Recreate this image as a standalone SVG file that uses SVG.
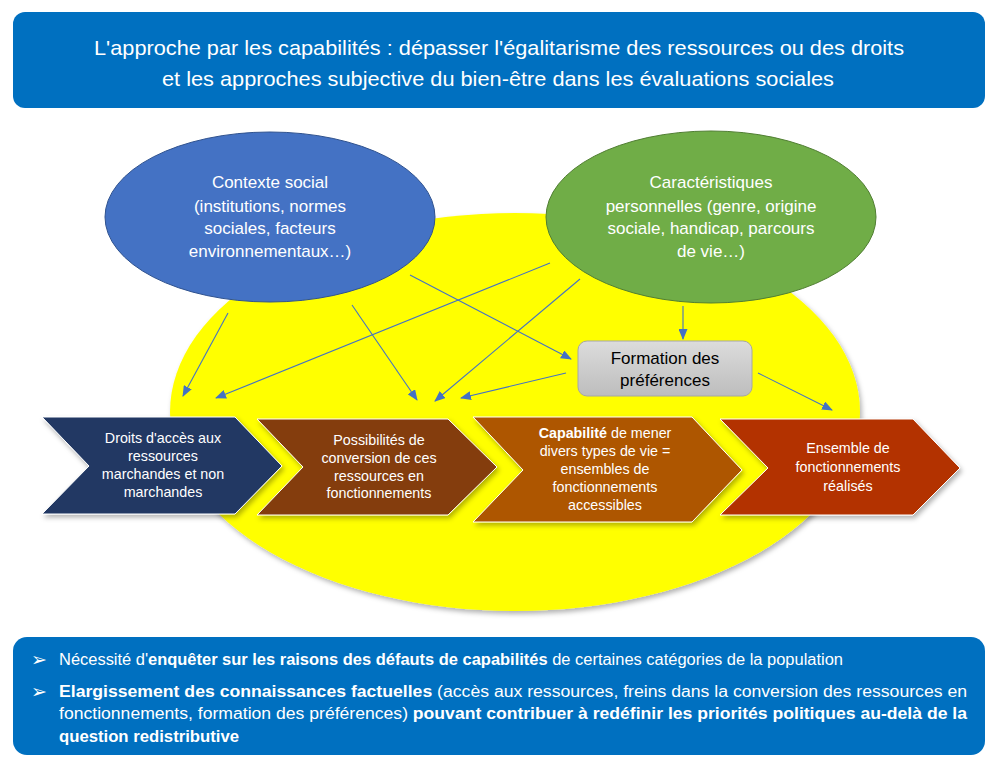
<svg xmlns="http://www.w3.org/2000/svg" width="998" height="771" viewBox="0 0 998 771">
<defs>
<style>
.hdr{font-family:"Liberation Sans",Arial,sans-serif;fill:#fff}
.ell{font-family:"Liberation Sans",Arial,sans-serif;font-size:17px;fill:#fff;text-anchor:middle}
.chev{font-family:"Liberation Sans",Arial,sans-serif;font-size:14.3px;fill:#fff;text-anchor:middle}
.box{font-family:"Liberation Sans",Arial,sans-serif;font-size:17px;fill:#000;text-anchor:middle}
.bot{font-family:"Liberation Sans",Arial,sans-serif;font-size:16px;fill:#fff}
.bul{font-family:"DejaVu Sans",sans-serif;font-size:19px;fill:#fff}
.b{font-weight:bold}
.conn line{stroke:#4472C4;stroke-width:1.1;marker-end:url(#ah)}
.chevshape{stroke:#fff;stroke-width:1;filter:url(#sh)}
</style>
<marker id="ah" markerUnits="userSpaceOnUse" markerWidth="11" markerHeight="9" refX="10" refY="4.5" orient="auto" viewBox="0 0 11 9">
<path d="M0,0 L11,4.5 L0,9 z" fill="#4472C4"/>
</marker>
<filter id="sh" x="-10%" y="-10%" width="125%" height="130%">
<feDropShadow dx="2" dy="3" stdDeviation="2.5" flood-color="#000" flood-opacity="0.3"/>
</filter>
<linearGradient id="gg" x1="0" y1="0" x2="0" y2="1">
<stop offset="0" stop-color="#dcdcdc"/>
<stop offset="1" stop-color="#bdbdbd"/>
</linearGradient>
</defs>

<g id="header">
<rect x="13" y="12" width="972" height="96" rx="12" fill="#0070C0"/>
<text class="hdr" font-size="21" x="94" y="55" textLength="810" lengthAdjust="spacingAndGlyphs">L'approche par les capabilités : dépasser l'égalitarisme des ressources ou des droits</text>
<text class="hdr" font-size="21" x="162" y="86" textLength="672" lengthAdjust="spacingAndGlyphs">et les approches subjective du bien-être dans les évaluations sociales</text>
</g>

<g id="yellow-bg">
<ellipse cx="515" cy="412" rx="345" ry="199" fill="#FFFF00" filter="url(#sh)"/>
</g>

<g id="contexte-social">
<ellipse cx="270" cy="217" rx="165" ry="85" fill="#4472C4" stroke="#2F528F" stroke-width="1"/>
<text class="ell" x="270" y="188">Contexte social</text>
<text class="ell" x="270" y="212">(institutions, normes</text>
<text class="ell" x="270" y="234">sociales, facteurs</text>
<text class="ell" x="270" y="257">environnementaux…)</text>
</g>

<g id="caracteristiques">
<ellipse cx="711" cy="217" rx="165" ry="86" fill="#70AD47" stroke="#507E32" stroke-width="1"/>
<text class="ell" x="711" y="188">Caractéristiques</text>
<text class="ell" x="711" y="212">personnelles (genre, origine</text>
<text class="ell" x="711" y="234">sociale, handicap, parcours</text>
<text class="ell" x="711" y="257">de vie…)</text>
</g>

<g id="connectors" class="conn">
<line x1="228" y1="313" x2="183" y2="396"/>
<line x1="550" y1="263" x2="216" y2="398"/>
<line x1="352" y1="305" x2="417" y2="400"/>
<line x1="580" y1="279" x2="435" y2="401"/>
<line x1="566" y1="373" x2="461" y2="398"/>
<line x1="410" y1="275" x2="571" y2="359"/>
<line x1="683" y1="306" x2="683" y2="339"/>
<line x1="758" y1="373" x2="832" y2="410"/>
</g>

<g id="formation-preferences">
<rect x="578" y="341" width="174" height="55" rx="9" fill="url(#gg)" stroke="#a6a6a6" stroke-width="1"/>
<text class="box" x="665" y="364">Formation des</text>
<text class="box" x="665" y="386">préférences</text>
</g>

<g id="droits-acces">
<polygon class="chevshape" points="42,417 235,417 282,466 235,514 42,514 89,466" fill="#203864"/>
<text class="chev" x="163" y="443">Droits d'accès aux</text>
<text class="chev" x="163" y="461">ressources</text>
<text class="chev" x="163" y="479">marchandes et non</text>
<text class="chev" x="163" y="497">marchandes</text>
</g>

<g id="possibilites-conversion">
<polygon class="chevshape" points="257,419 448,419 497,467 448,515 257,515 303,467" fill="#843C0C"/>
<text class="chev" x="379" y="445">Possibilités de</text>
<text class="chev" x="379" y="463">conversion de ces</text>
<text class="chev" x="379" y="481">ressources en</text>
<text class="chev" x="379" y="498">fonctionnements</text>
</g>

<g id="capabilite">
<polygon class="chevshape" points="473,417 692,417 742,470 692,522 473,522 523,470" fill="#AE5600"/>
<text class="chev" x="605" y="438"><tspan class="b">Capabilité</tspan> de mener</text>
<text class="chev" x="605" y="456">divers types de vie =</text>
<text class="chev" x="605" y="474">ensembles de</text>
<text class="chev" x="605" y="492">fonctionnements</text>
<text class="chev" x="605" y="510">accessibles</text>
</g>

<g id="fonctionnements-realises">
<polygon class="chevshape" points="720,419 913,419 960,468 913,515 720,515 768,468" fill="#B33200"/>
<text class="chev" font-size="15.6" x="848" y="453">Ensemble de</text>
<text class="chev" font-size="15.6" x="848" y="472">fonctionnements</text>
<text class="chev" font-size="15.6" x="848" y="491">réalisés</text>
</g>

<g id="conclusions">
<rect x="13" y="637" width="972" height="118" rx="14" fill="#0070C0"/>
<text class="bul" x="31" y="666">➢</text>
<text class="bul" x="31" y="698">➢</text>
<text class="bot" x="59" y="665" textLength="784" lengthAdjust="spacingAndGlyphs">Nécessité d'<tspan class="b">enquêter sur les raisons des défauts de capabilités</tspan> de certaines catégories de la population</text>
<text class="bot" x="59" y="697" textLength="908" lengthAdjust="spacingAndGlyphs"><tspan class="b">Elargissement des connaissances factuelles</tspan> (accès aux ressources, freins dans la conversion des ressources en</text>
<text class="bot" x="59" y="719" textLength="908" lengthAdjust="spacingAndGlyphs">fonctionnements, formation des préférences) <tspan class="b">pouvant contribuer à redéfinir les priorités politiques au-delà de la</tspan></text>
<text class="bot b" x="59" y="742" textLength="180" lengthAdjust="spacingAndGlyphs">question redistributive</text>
</g>
</svg>
